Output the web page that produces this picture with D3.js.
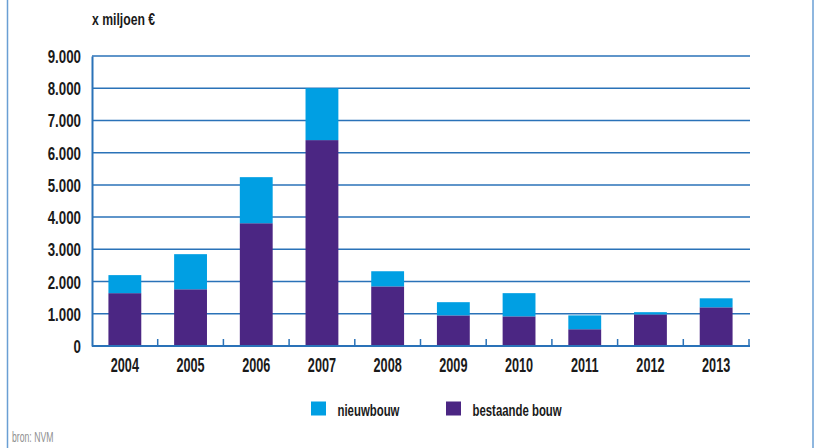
<!DOCTYPE html>
<html><head><meta charset="utf-8">
<script src="https://cdn.jsdelivr.net/npm/d3@7"></script>
<style>
body{margin:0;background:#fff;}
text{font-family:"Liberation Sans",Arial,sans-serif;}
</style></head>
<body><svg id="c" width="817" height="448"></svg>
<script>
const years = ["2004","2005","2006","2007","2008","2009","2010","2011","2012","2013"];
const bestaandeBouw = [1640,1760,3810,6390,1850,950,920,520,980,1200];
const nieuwbouw = [560,1090,1430,1610,470,410,720,430,70,280];
const yTicks = [0,1000,2000,3000,4000,5000,6000,7000,8000,9000];
const seriesNames = ["bestaande bouw","nieuwbouw"];
const colors = {"bestaande bouw":"#4b2683","nieuwbouw":"#009fe3"};

(function(){
const svg = d3.select("#c");
const pL=92, pR=749, pT=56, pB=346;
const x = d3.scaleBand().domain(years).range([pL,pR]).paddingInner(0.5).paddingOuter(0.25);
const xb = d3.scaleBand().domain(years).range([pL,pR]);
const y = d3.scaleLinear().domain([0,9000]).range([pB,pT]);
const nl = d3.formatLocale({decimal:",",thousands:".",grouping:[3],currency:["€",""]});
const fmt = nl.format(",");
const gridColor="#2a72b8";
const ink="#1a1a1a";

// frame
svg.append("line").attr("x1",7.5).attr("x2",7.5).attr("y1",0).attr("y2",448).attr("stroke","#6a9fd4").attr("stroke-width",1.5);
svg.append("line").attr("x1",813).attr("x2",813).attr("y1",0).attr("y2",448).attr("stroke","#6a9fd4").attr("stroke-width",1.5);

// gridlines
svg.append("g").selectAll("line").data(yTicks.filter(d=>d>0)).join("line")
  .attr("x1",pL).attr("x2",pR+1).attr("y1",d=>y(d)).attr("y2",d=>y(d))
  .attr("stroke",gridColor).attr("stroke-width",1.5);

// stacked data
const data = years.map((yr,i)=>({year:yr,"bestaande bouw":bestaandeBouw[i],"nieuwbouw":nieuwbouw[i]}));
const stack = d3.stack().keys(seriesNames)(data);
svg.append("g").selectAll("g").data(stack).join("g").attr("fill",s=>colors[s.key])
  .selectAll("rect").data(s=>s).join("rect")
  .attr("x",d=>x(d.data.year)).attr("width",x.bandwidth())
  .attr("y",d=>y(d[1])).attr("height",d=>y(d[0])-y(d[1]));

// y axis
const yAxis = d3.axisLeft(y).tickValues(yTicks).tickFormat(fmt).tickSize(0).tickPadding(0);
const gy = svg.append("g").attr("transform",`translate(${pL},0)`).call(yAxis);
gy.select(".domain").attr("stroke",gridColor).attr("stroke-width",2);
gy.selectAll("text").attr("x",0).attr("dy",null).attr("y",6.5)
  .attr("transform","translate(-11,0) scale(0.74,1)")
  .attr("font-size",18).attr("font-weight","bold").attr("fill",ink);

// x axis
const gx = svg.append("g").attr("transform",`translate(0,${pB})`);
gx.append("line").attr("x1",pL).attr("x2",pR+1).attr("stroke",gridColor).attr("stroke-width",2);
gx.selectAll(".tk").data(years.slice(1).concat(["end"])).join("line")
  .attr("x1",d=>d==="end"?pR:xb(d)).attr("x2",d=>d==="end"?pR:xb(d))
  .attr("y1",0).attr("y2",-7).attr("stroke",gridColor).attr("stroke-width",1.5);
gx.selectAll("text").data(years).join("text")
  .attr("transform",d=>`translate(${x(d)+x.bandwidth()/2},25.5) scale(0.65,1)`)
  .attr("text-anchor","middle")
  .attr("font-size",19.5).attr("font-weight","bold").attr("fill",ink).text(d=>d);

// title
svg.append("text").attr("transform","translate(92,25) scale(0.74,1)")
  .attr("font-size",16.5).attr("font-weight","bold").attr("fill",ink).text("x miljoen €");

// legend
const legendItems=[{name:"nieuwbouw",x:311},{name:"bestaande bouw",x:446}];
const lg = svg.append("g").selectAll("g").data(legendItems).join("g").attr("transform",d=>`translate(${d.x},401.5)`);
lg.append("rect").attr("width",15).attr("height",14).attr("fill",d=>colors[d.name]);
lg.append("text").attr("transform","translate(26.5,14) scale(0.67,1)")
  .attr("font-size",17).attr("font-weight","bold").attr("fill",ink).text(d=>d.name);

// source
svg.append("text").attr("transform","translate(12,442) scale(0.62,1)")
  .attr("font-size",14).attr("fill","#8f8f8f").text("bron: NVM");
})();
</script></body></html>
